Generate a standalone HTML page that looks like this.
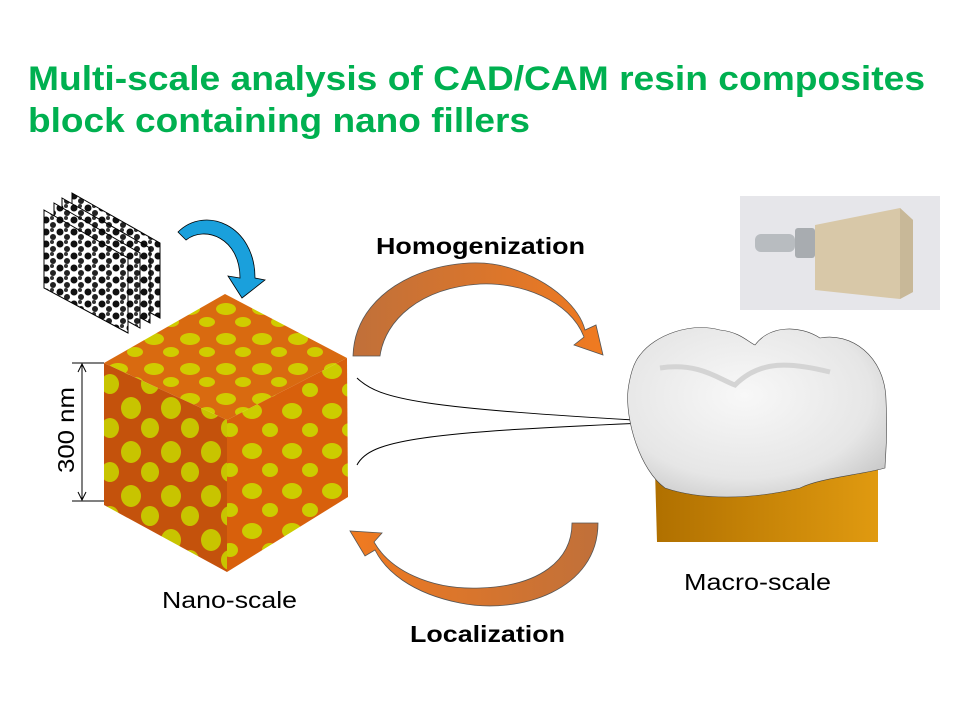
<!DOCTYPE html>
<html><head><meta charset="utf-8"><style>
body{margin:0;background:#fff;}
svg{display:block;font-family:"Liberation Sans",Arial,sans-serif;}
</style></head><body>
<svg width="960" height="720" viewBox="0 0 960 720" xmlns="http://www.w3.org/2000/svg">
<defs>
<linearGradient id="og" x1="0" y1="0" x2="1" y2="0"><stop offset="0" stop-color="#c0703a"/><stop offset="1" stop-color="#f07a20"/></linearGradient>
<linearGradient id="og2" x1="1" y1="0" x2="0" y2="0"><stop offset="0" stop-color="#c0703a"/><stop offset="1" stop-color="#f07a20"/></linearGradient>
<radialGradient id="tw" cx="0.45" cy="0.4" r="0.7"><stop offset="0" stop-color="#f8f8f8"/><stop offset="0.7" stop-color="#e6e6e6"/><stop offset="1" stop-color="#c8c8c8"/></radialGradient>
<linearGradient id="tb" x1="0" y1="0" x2="1" y2="0"><stop offset="0" stop-color="#b07000"/><stop offset="1" stop-color="#e09a10"/></linearGradient>
<pattern id="dots" width="14" height="12" patternUnits="userSpaceOnUse"><rect width="14" height="12" fill="#fff"/><circle cx="4" cy="4" r="3.5" fill="#111"/><circle cx="11" cy="9" r="3" fill="#222"/><circle cx="10" cy="2" r="2" fill="#333"/></pattern>
<pattern id="blobL" width="40" height="44" patternUnits="userSpaceOnUse"><rect width="40" height="44" fill="#c4520c"/><ellipse cx="11" cy="12" rx="10" ry="11" fill="#c8c400"/><ellipse cx="30" cy="32" rx="9" ry="10" fill="#c8c400"/></pattern>
<pattern id="blobR" width="40" height="40" patternUnits="userSpaceOnUse"><rect width="40" height="40" fill="#d8600c"/><ellipse cx="12" cy="11" rx="10" ry="8" fill="#cccc00"/><ellipse cx="30" cy="30" rx="8" ry="7" fill="#cccc00"/></pattern>
<pattern id="blobT" width="36" height="30" patternUnits="userSpaceOnUse"><rect width="36" height="30" fill="#d96a10"/><ellipse cx="10" cy="9" rx="10" ry="6" fill="#d0cc00"/><ellipse cx="27" cy="22" rx="8" ry="5" fill="#d0cc00"/></pattern>
</defs>

<text x="28" y="90" font-size="34" font-weight="bold" fill="#00b050" textLength="897" lengthAdjust="spacingAndGlyphs">Multi-scale analysis of CAD/CAM resin composites</text>
<text x="28" y="132" font-size="34" font-weight="bold" fill="#00b050" textLength="502" lengthAdjust="spacingAndGlyphs">block containing nano fillers</text>

<g stroke="#000" stroke-width="1">
<polygon points="72,193 160,243 160,318 72,270" fill="url(#dots)"/>
<polygon points="62,198 150,248 150,323 62,275" fill="url(#dots)"/>
<polygon points="54,203 140,253 140,328 54,280" fill="url(#dots)"/>
<polygon points="44,210 128,258 128,333 44,288" fill="url(#dots)"/>
</g>
<path d="M178,232 C205,205 255,225 255,278 L265,280 L242,298 L228,276 L240,278 C240,238 205,225 186,240 Z" fill="#1aa0dc" stroke="#000" stroke-width="0.8"/>

<polygon points="225,294 347,358 227,420 104,363" fill="url(#blobT)"/>
<polygon points="104,363 227,420 227,572 104,505" fill="url(#blobL)"/>
<polygon points="227,420 347,358 348,497 227,572" fill="url(#blobR)"/>

<g stroke="#000" stroke-width="1" fill="none">
<line x1="72" y1="363" x2="104" y2="363"/><line x1="72" y1="501" x2="104" y2="501"/>
<line x1="82" y1="364" x2="82" y2="500"/>
<polyline points="78,372 82,364 86,372"/><polyline points="78,492 82,500 86,492"/>
</g>
<text transform="translate(74,430) rotate(-90)" font-size="23" text-anchor="middle" textLength="86" lengthAdjust="spacingAndGlyphs">300 nm</text>

<path d="M353,356 C355,280 455,250 510,268 C555,282 580,310 585,330 L596,325 L603,355 L574,345 L584,337 C570,300 520,282 480,284 C420,288 385,320 380,356 Z" fill="url(#og)" stroke="#555" stroke-width="0.8"/>
<text x="376" y="254" font-size="23" font-weight="bold" textLength="209" lengthAdjust="spacingAndGlyphs">Homogenization</text>

<path d="M598,523 C598,590 520,615 460,603 C410,593 385,570 375,550 L365,556 L350,531 L382,533 L374,542 C390,570 430,590 480,588 C540,586 572,560 572,523 Z" fill="url(#og2)" stroke="#555" stroke-width="0.8"/>
<text x="410" y="642" font-size="23" font-weight="bold" textLength="155" lengthAdjust="spacingAndGlyphs">Localization</text>

<g stroke="#000" stroke-width="1" fill="none">
<path d="M357,378 C380,400 420,408 668,422"/>
<path d="M357,465 C370,440 420,432 668,422"/>
</g>

<rect x="740" y="196" width="200" height="114" fill="#e6e6ea"/>
<rect x="755" y="234" width="40" height="18" rx="6" fill="#b8bcc0"/>
<rect x="795" y="228" width="20" height="30" rx="3" fill="#a8acb0"/>
<polygon points="815,225 900,208 913,220 913,292 900,299 815,290" fill="#d8c8a8"/>
<polygon points="900,208 913,220 913,292 900,299" fill="#c8b898"/>

<path d="M655,470 L878,462 L878,542 L657,542 Z" fill="url(#tb)"/>
<path d="M640,355 C655,335 690,322 720,330 C740,332 748,342 755,345 C770,325 800,325 820,338 C850,332 885,355 886,400 C888,440 885,460 885,468 C860,475 820,478 800,488 C750,500 700,500 665,488 C640,470 625,420 628,390 C630,375 634,362 640,355 Z" fill="url(#tw)" stroke="#444" stroke-width="0.6"/>
<path d="M660,368 C700,362 720,380 735,385 C760,360 790,362 830,372" stroke="#d4d4d4" stroke-width="5" fill="none"/>

<text x="162" y="608" font-size="23" textLength="135" lengthAdjust="spacingAndGlyphs">Nano-scale</text>
<text x="684" y="590" font-size="23" textLength="147" lengthAdjust="spacingAndGlyphs">Macro-scale</text>
</svg>
</body></html>
